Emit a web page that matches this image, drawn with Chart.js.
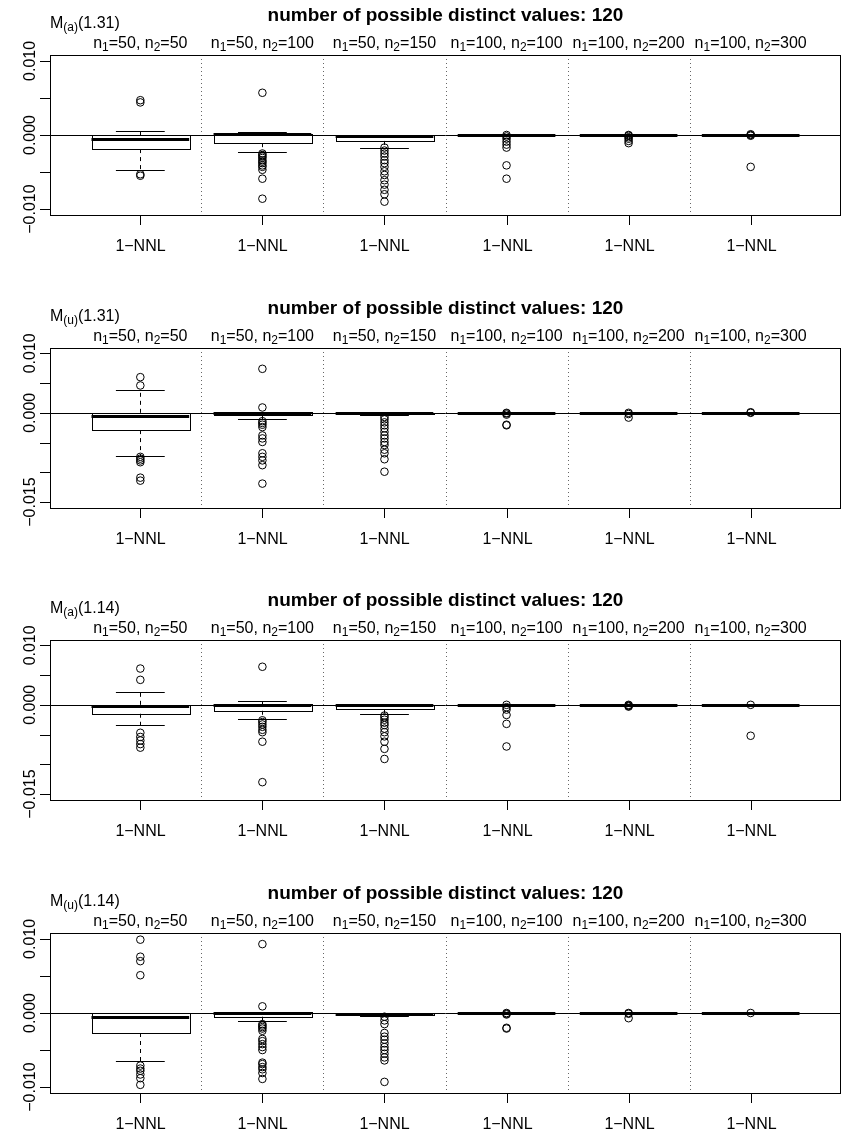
<!DOCTYPE html>
<html>
<head>
<meta charset="utf-8">
<script src="https://cdn.jsdelivr.net/npm/chart.js@4"></script>
<style>
  body { margin: 0; background: #fff; }
  #wrap { position: relative; width: 843px; height: 1134px; }
  #wrap canvas { position: absolute; left: 0; }
</style>
</head>
<body>
<div id="wrap"></div>
<script>
// group sizes shown above each box
const n1 = [50, 50, 50, 100, 100, 100];
const n2 = [50, 100, 150, 100, 200, 300];
const groupLabel = "1\u2212NNL";
const mainTitle = "number of possible distinct values: 120";

// panel labels M_(sub)(arg)
const panelSub = ["a", "u", "a", "u"];
const panelArg = ["1.31", "1.31", "1.14", "1.14"];

// y ranges and ticks per panel
const yMin = [-0.0108, -0.0160, -0.0160, -0.0108];
const yMax = [0.0108, 0.0109, 0.0109, 0.0108];
const ticksSmall = [-0.010, -0.005, 0, 0.005, 0.010];
const ticksLarge = [-0.015, -0.010, -0.005, 0, 0.005, 0.010];
const labelsSmall = [-0.010, 0, 0.010];
const labelsLarge = [-0.015, 0, 0.010];

// box stats per group: [lower whisker, q1, median, q3, upper whisker]
const boxA131 = [
  [-0.0047, -0.0019, -0.0005, 0.0000, 0.0005],
  [-0.0023, -0.0011, 0.0001, 0.0002, 0.0004],
  [-0.0018, -0.0008, -0.0001, 0.0000, 0.0000],
  [0, 0, 0, 0, 0],
  [0, 0, 0, 0, 0],
  [0, 0, 0, 0, 0]
];
const outA131 = [
  [0.0047, 0.0044, -0.0053, -0.0055],
  [0.0057, -0.0025, -0.0027, -0.0029, -0.0031, -0.0034, -0.0036, -0.0038, -0.0041, -0.0043, -0.0047, -0.0059, -0.0086],
  [-0.0017, -0.0021, -0.0025, -0.0029, -0.0034, -0.0038, -0.0043, -0.0049, -0.0054, -0.0061, -0.0067, -0.0074, -0.0080, -0.0090],
  [0.0000, -0.0002, -0.0005, -0.0009, -0.0013, -0.0017, -0.0041, -0.0059],
  [0.0000, -0.0001, -0.0003, -0.0005, -0.0008, -0.0011],
  [0.0001, 0.0000, -0.0001, -0.0043]
];

const boxU131 = [
  [-0.0073, -0.0029, -0.0006, 0.0000, 0.0038],
  [-0.0011, -0.0004, -0.0001, 0.0001, 0.0001],
  [-0.0004, -0.0002, 0.0000, 0.0000, 0.0000],
  [0, 0, 0, 0, 0],
  [0, 0, 0, 0, 0],
  [0, 0, 0, 0, 0]
];
const outU131 = [
  [0.0060, 0.0046, -0.0074, -0.0077, -0.0080, -0.0083, -0.0109, -0.0114],
  [0.0074, 0.0009, -0.0014, -0.0017, -0.0020, -0.0024, -0.0038, -0.0043, -0.0049, -0.0068, -0.0074, -0.0080, -0.0088, -0.0119],
  [-0.0007, -0.0011, -0.0016, -0.0021, -0.0026, -0.0032, -0.0038, -0.0043, -0.0049, -0.0054, -0.0062, -0.0068, -0.0078, -0.0099],
  [0.0000, -0.0001, -0.0003, -0.0020, -0.0021],
  [0.0000, -0.0002, -0.0008],
  [0.0000, 0.0001]
];

const boxA114 = [
  [-0.0034, -0.0015, -0.0002, 0.0000, 0.0021],
  [-0.0023, -0.0010, 0.0000, 0.0001, 0.0006],
  [-0.0016, -0.0007, -0.0001, 0.0000, 0.0000],
  [0, 0, 0, 0, 0],
  [0, 0, 0, 0, 0],
  [0, 0, 0, 0, 0]
];
const outA114 = [
  [0.0061, 0.0042, -0.0047, -0.0054, -0.0060, -0.0066, -0.0072],
  [0.0064, -0.0026, -0.0029, -0.0033, -0.0037, -0.0042, -0.0046, -0.0062, -0.0130],
  [-0.0018, -0.0021, -0.0025, -0.0030, -0.0034, -0.0040, -0.0046, -0.0053, -0.0062, -0.0074, -0.0091],
  [0.0000, -0.0004, -0.0008, -0.0017, -0.0032, -0.0070],
  [0.0000, -0.0001, -0.0002, -0.0003],
  [0.0000, -0.0052]
];

const boxU114 = [
  [-0.0065, -0.0027, -0.0005, 0.0000, 0.0000],
  [-0.0011, -0.0005, 0.0000, 0.0001, 0.0001],
  [-0.0004, -0.0003, -0.0001, 0.0000, 0.0000],
  [0, 0, 0, 0, 0],
  [0, 0, 0, 0, 0],
  [0, 0, 0, 0, 0]
];
const outU114 = [
  [0.0099, 0.0076, 0.0070, 0.0051, -0.0071, -0.0075, -0.0078, -0.0083, -0.0088, -0.0097],
  [0.0093, 0.0009, -0.0015, -0.0017, -0.0019, -0.0021, -0.0024, -0.0035, -0.0038, -0.0042, -0.0046, -0.0050, -0.0067, -0.0069, -0.0073, -0.0076, -0.0081, -0.0089],
  [-0.0005, -0.0010, -0.0015, -0.0027, -0.0032, -0.0036, -0.0041, -0.0046, -0.0050, -0.0055, -0.0060, -0.0064, -0.0093],
  [0.0000, -0.0001, -0.0002, -0.0020, -0.0021],
  [0.0000, -0.0001, -0.0007],
  [0.0000]
];

const panelBoxes = [boxA131, boxU131, boxA114, boxU114];
const panelOut = [outA131, outU131, outA114, outU114];
const panelTicks = [ticksSmall, ticksLarge, ticksLarge, ticksSmall];
const panelLabels = [labelsSmall, labelsLarge, labelsLarge, labelsSmall];

// layout
const canvasTop = [0, 293, 585, 878];
const W = 843, H = 256;
const BOX_W = 0.8, STAPLE_W = 0.4;
const FONT = '"Liberation Sans", Arial, Helvetica, sans-serif';

function fmt(v) {
  const s = Math.abs(v).toFixed(3);
  return v < -1e-9 ? "\u2212" + s : s;
}
const crisp = v => Math.round(v) + 0.5;

function seg(ctx, x1, y1, x2, y2) {
  ctx.beginPath(); ctx.moveTo(x1, y1); ctx.lineTo(x2, y2); ctx.stroke();
}

// text with subscripts: segs = [[text, isSub], ...]
function drawRich(ctx, segs, x, y, align) {
  const big = "16px " + FONT, small = "12px " + FONT;
  let w = 0;
  segs.forEach(s => { ctx.font = s[1] ? small : big; w += ctx.measureText(s[0]).width; });
  let cx = align === "center" ? x - w / 2 : x;
  ctx.textAlign = "left"; ctx.textBaseline = "alphabetic";
  segs.forEach(s => {
    ctx.font = s[1] ? small : big;
    ctx.fillText(s[0], cx, s[1] ? y + 3 : y);
    cx += ctx.measureText(s[0]).width;
  });
}

const rBoxPlugin = {
  id: "rbox",
  beforeDatasetsDraw(chart, args, opts) {
    const p = opts.panel;
    const { ctx, chartArea: a } = chart;
    const x = chart.scales.x, y = chart.scales.y;
    ctx.save();
    ctx.lineWidth = 1;
    // dotted separators between groups
    ctx.strokeStyle = "#666";
    ctx.setLineDash([1, 3]);
    for (let k = 1; k < n1.length; k++) {
      const px = crisp(x.getPixelForValue(k + 0.5));
      seg(ctx, px, a.top, px, a.bottom);
    }
    ctx.setLineDash([]);
    // zero reference line
    ctx.strokeStyle = "#000";
    const y0 = crisp(y.getPixelForValue(0));
    seg(ctx, a.left, y0, a.right, y0);

    panelBoxes[p].forEach((b, i) => {
      const cx = x.getPixelForValue(i + 1);
      const hw = x.getPixelForValue(i + 1 + BOX_W / 2) - cx;
      const sw = x.getPixelForValue(i + 1 + STAPLE_W / 2) - cx;
      const [lo, q1, med, q3, hi] = b.map(v => y.getPixelForValue(v));
      const xc = crisp(cx);
      ctx.strokeStyle = "#000";
      ctx.lineWidth = 1;
      // whiskers
      ctx.setLineDash([4, 4]);
      if (Math.abs(hi - q3) > 0.5) seg(ctx, xc, q3, xc, hi);
      if (Math.abs(lo - q1) > 0.5) seg(ctx, xc, q1, xc, lo);
      ctx.setLineDash([]);
      // staples
      seg(ctx, cx - sw, crisp(hi), cx + sw, crisp(hi));
      seg(ctx, cx - sw, crisp(lo), cx + sw, crisp(lo));
      // box
      ctx.strokeRect(Math.round(cx - hw) + 0.5, crisp(q3), Math.round(2 * hw), Math.round(q1) - Math.round(q3));
      // median
      ctx.lineWidth = 3;
      seg(ctx, cx - hw, Math.round(med) + 0.5, cx + hw, Math.round(med) + 0.5);
    });
    ctx.restore();
  },
  afterDraw(chart, args, opts) {
    const p = opts.panel;
    const { ctx, chartArea: a } = chart;
    const x = chart.scales.x, y = chart.scales.y;
    ctx.save();
    ctx.strokeStyle = "#000";
    ctx.fillStyle = "#000";
    ctx.lineWidth = 1;
    // frame
    ctx.strokeRect(a.left + 0.5, a.top + 0.5, a.right - a.left - 1, a.bottom - a.top);
    // y axis ticks and rotated labels
    panelTicks[p].forEach(t => {
      const py = crisp(y.getPixelForValue(t));
      seg(ctx, a.left - 10, py, a.left, py);
    });
    ctx.font = "16px " + FONT;
    ctx.textAlign = "center";
    ctx.textBaseline = "alphabetic";
    panelLabels[p].forEach(t => {
      const py = y.getPixelForValue(t);
      ctx.save();
      ctx.translate(35, py);
      ctx.rotate(-Math.PI / 2);
      ctx.fillText(fmt(t), 0, 0);
      ctx.restore();
    });
    // x axis ticks and labels
    n1.forEach((v, i) => {
      const px = crisp(x.getPixelForValue(i + 1));
      seg(ctx, px, a.bottom, px, a.bottom + 10);
      ctx.font = "16px " + FONT;
      ctx.textAlign = "center";
      ctx.fillText(groupLabel, px, a.bottom + 36);
    });
    // group subtitles
    n1.forEach((v, i) => {
      const px = x.getPixelForValue(i + 1);
      drawRich(ctx, [["n", 0], ["1", 1], ["=" + v + ", n", 0], ["2", 1], ["=" + n2[i], 0]], px, a.top - 7, "center");
    });
    // panel label
    drawRich(ctx, [["M", 0], ["(" + panelSub[p] + ")", 1], ["(" + panelArg[p] + ")", 0]], a.left, a.top - 27, "left");
    // main title
    ctx.font = "bold 19px " + FONT;
    ctx.textAlign = "center";
    ctx.fillText(mainTitle, (a.left + a.right) / 2, a.top - 34);
    ctx.restore();
  }
};

const wrap = document.getElementById("wrap");
panelBoxes.forEach((boxes, p) => {
  const cv = document.createElement("canvas");
  cv.width = W; cv.height = H;
  cv.style.top = canvasTop[p] + "px";
  wrap.appendChild(cv);
  const pts = [];
  panelOut[p].forEach((list, i) => list.forEach(v => pts.push({ x: i + 1, y: v })));
  new Chart(cv.getContext("2d"), {
    type: "scatter",
    data: {
      datasets: [{
        data: pts,
        pointStyle: "circle",
        pointRadius: 3.8,
        pointHoverRadius: 3.8,
        borderWidth: 1,
        borderColor: "#000",
        backgroundColor: "rgba(0,0,0,0)"
      }]
    },
    options: {
      responsive: false,
      animation: false,
      events: [],
      layout: { autoPadding: false, padding: { left: 50, right: 2, top: 55, bottom: 41 } },
      scales: {
        x: { type: "linear", min: 0.26, max: 6.74, display: false },
        y: { type: "linear", min: yMin[p], max: yMax[p], display: false }
      },
      plugins: {
        legend: { display: false },
        tooltip: { enabled: false },
        rbox: { panel: p }
      }
    },
    plugins: [rBoxPlugin]
  });
});
</script>
</body>
</html>
